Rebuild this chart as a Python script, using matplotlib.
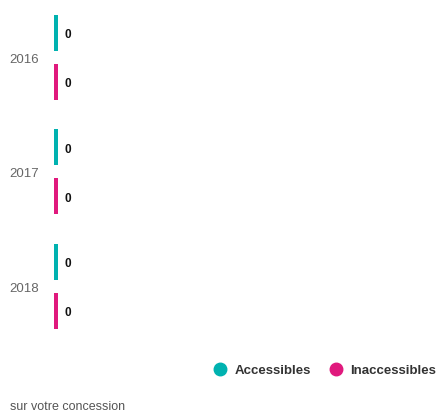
import numpy as np
import matplotlib.pyplot as plt

###### DATA ######

years = ['2016', '2017', '2018']
accessibles = [0, 0, 0]
inaccessibles = [0, 0, 0]
series_labels = ['Accessibles', 'Inaccessibles']
series_colors = ['#00b2b0', '#e0197d']

plt.rcParams['font.family'] = ['Liberation Sans', 'DejaVu Sans']

###### FIGURE ######

fig = plt.figure(figsize=(4.36, 4.14), dpi=100)
ax = fig.add_axes([54 / 436, 1 - 344.5 / 414, 1 - 54 / 436, 343.5 / 414])

x_max = 100
min_px = 4  # zero values still get a thin visible bar
min_width = min_px / (436 - 54) * x_max

pos = np.arange(len(years))
offset = 0.214
bar_h = 0.314

for vals, color, sign in [(accessibles, series_colors[0], -1),
                          (inaccessibles, series_colors[1], 1)]:
    widths = [max(v, min_width) for v in vals]
    ax.barh(pos + sign * offset, widths, height=bar_h, color=color, left=0)
    for p, v, w in zip(pos, vals, widths):
        ax.text(w + 6 / 382 * x_max, p + sign * offset + 0.015, f'{v}', ha='left', va='center',
                fontsize=8.5, fontweight='bold', color='#111111')

ax.set_xlim(0, x_max)
ax.set_ylim(len(years) - 0.5, -0.5)
ax.set_yticks(pos)
ax.set_yticklabels(years, fontsize=9.5, color='#666666')
ax.tick_params(axis='y', length=0, pad=11)
ax.set_xticks([])
for s in ax.spines.values():
    s.set_visible(False)

###### LEGEND ######

handles = [plt.Line2D([], [], marker='o', linestyle='', markersize=9,
                      markerfacecolor=c, markeredgecolor=c) for c in series_colors]
leg = fig.legend(handles, series_labels, loc='center right',
                 bbox_to_anchor=(1.028, 1 - 371 / 414), ncol=2, frameon=False,
                 handletextpad=0.6, columnspacing=1.4, handlelength=1.0,
                 prop={'size': 9.5, 'weight': 'bold'})
for t in leg.get_texts():
    t.set_color('#333333')

fig.text(10 / 436, 1 - 407.5 / 414, 'sur votre concession', fontsize=9,
         color='#555555', ha='left', va='center')

fig.savefig('out.png', dpi=100)
